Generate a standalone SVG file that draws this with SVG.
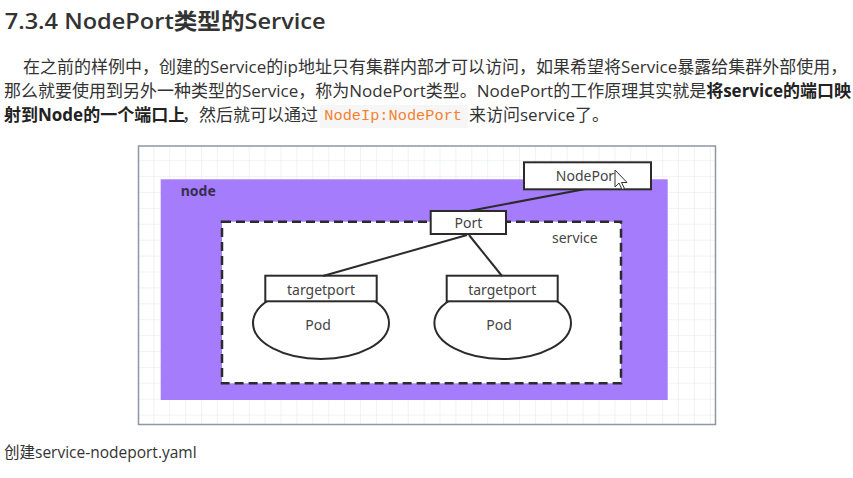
<svg xmlns="http://www.w3.org/2000/svg" width="853" height="478" viewBox="0 0 853 478">
  <defs>
    <pattern id="grid" patternUnits="userSpaceOnUse" x="153.3" y="160.2" width="15.9" height="15.9">
      <path d="M0,0 V15.9 M0,0 H15.9" fill="none" stroke="#e4e6ea" stroke-width="1"/>
    </pattern>
    <style>
      .txt { font-family: "Open Sans", "Noto Sans", "Noto Sans CJK SC", sans-serif; fill: #333; }
      .para { font-size: 17px; }
      .b { font-weight: bold; fill: #222; }
      .code { font-family: "Liberation Mono", "DejaVu Sans Mono", monospace; font-size: 15.3px; fill: #f4822f; }
      .lbl { font-family: "Noto Sans", "Open Sans", sans-serif; font-size: 14px; fill: #444; }
      .box { fill: #ffffff; stroke: #2b2b2b; stroke-width: 2; }
      .conn { stroke: #2b2b2b; stroke-width: 2; fill: none; }
    </style>
  </defs>
  <rect x="0" y="0" width="853" height="478" fill="#ffffff"/>

  <!-- Header and paragraph -->
  <text class="txt" x="4.7" y="29.3" font-size="22" font-weight="600" textLength="321" lengthAdjust="spacingAndGlyphs">7.3.4 NodePort类型的Service</text>
  <text class="txt para" x="23" y="72.5">在之前的样例中，创建的Service的ip地址只有集群内部才可以访问，如果希望将Service暴露给集群外部使用，</text>
  <text class="txt para" x="4" y="96.5">那么就要使用到另外一种类型的Service，称为NodePort类型。NodePort的工作原理其实就是<tspan class="b">将service的端口映</tspan></text>
  <text class="txt para b" x="4" y="120.5">射到Node的一个端口上</text>
  <text class="txt para" x="182" y="120.5">，然后就可以通过</text>
  <rect x="320" y="105" width="148" height="23" fill="#f6f6f6"/>
  <text class="code" x="324.3" y="120">NodeIp:NodePort</text>
  <text class="txt para" x="469" y="120.5">来访问service了。</text>

  <!-- Diagram canvas -->
  <rect x="138.5" y="146" width="577" height="278.5" fill="#ffffff"/>
  <rect x="138.5" y="146" width="577" height="278.5" fill="url(#grid)" stroke="#8d97a5" stroke-width="1.5"/>

  <g id="node">
    <rect x="160.7" y="179.3" width="507" height="220.7" fill="#a57cfb"/>
    <text x="180.7" y="196" font-family="Noto Sans, Open Sans, sans-serif" font-size="14" font-weight="bold" fill="#362f52">node</text>
  </g>

  <g id="service">
    <rect x="222" y="221.7" width="399" height="161.6" fill="#ffffff" stroke="#2b2b2b" stroke-width="2.5" stroke-dasharray="9 5"/>
    <text class="lbl" x="552" y="243">service</text>
  </g>

  <g id="pod-left">
    <ellipse cx="321" cy="323" rx="68" ry="36" class="box"/>
    <text class="lbl" x="318" y="330" text-anchor="middle">Pod</text>
  </g>
  <g id="pod-right">
    <ellipse cx="502.7" cy="323" rx="68.3" ry="36" class="box"/>
    <text class="lbl" x="499" y="330" text-anchor="middle">Pod</text>
  </g>

  <g id="targetport-left">
    <rect x="265.3" y="275.7" width="111.4" height="25.6" class="box"/>
    <text class="lbl" x="321" y="294.5" text-anchor="middle">targetport</text>
  </g>
  <g id="targetport-right">
    <rect x="446.7" y="275.7" width="111" height="25.6" class="box"/>
    <text class="lbl" x="502.2" y="294.5" text-anchor="middle">targetport</text>
  </g>

  <g id="connectors">
    <line class="conn" x1="588" y1="188.5" x2="469" y2="211"/>
    <line class="conn" x1="467" y1="235" x2="323" y2="276"/>
    <line class="conn" x1="469" y1="235" x2="502" y2="276"/>
  </g>

  <g id="port">
    <rect x="430.7" y="211" width="75.3" height="23" class="box"/>
    <text class="lbl" x="468.4" y="228.3" text-anchor="middle">Port</text>
  </g>

  <g id="nodeport">
    <rect x="524" y="162.3" width="127" height="27" class="box"/>
    <text class="lbl" x="587.5" y="180.7" text-anchor="middle">NodePort</text>
  </g>

  <!-- mouse cursor as shown -->
  <path d="M615,170 L615,187 L619,183 L622,189.5 L624.5,188.5 L621.5,182.5 L627,182.5 Z" fill="#ffffff" stroke="#333" stroke-width="1"/>

  <text class="txt" x="4" y="458" font-size="15.5">创建service-nodeport.yaml</text>
</svg>
